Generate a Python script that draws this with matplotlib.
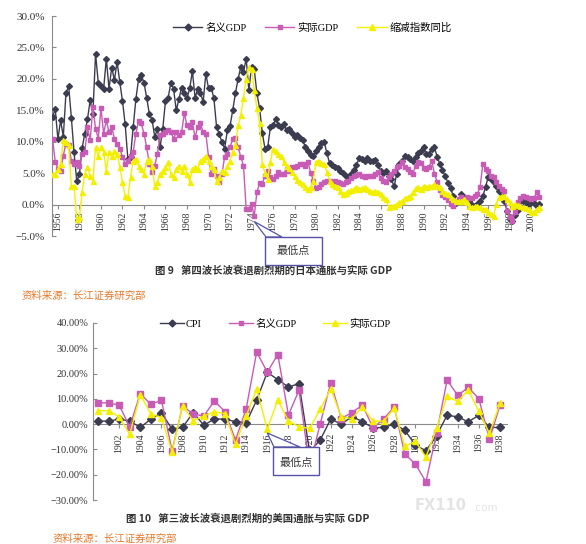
import matplotlib
matplotlib.use("Agg")
import matplotlib.pyplot as plt
from matplotlib.lines import Line2D
from matplotlib.patches import Rectangle, Polygon
import numpy as np

W, H = 586, 544
FAM = ['Liberation Serif', 'Noto Sans CJK SC', 'DejaVu Sans']
CJK = ['Noto Sans CJK SC', 'DejaVu Sans']
plt.rcParams['font.family'] = FAM
plt.rcParams['axes.unicode_minus'] = True

# ---- Japan, quarterly from 1955Q3 (fig 9) ----
jp_start = 1955.5
nominal_jp = [
    14.0, 15.2, 10.4, 13.4, 10.8, 17.8, 18.8, 13.8, 8.3, 3.8,
    4.8, 9.0, 11.3, 13.6, 16.6, 14.4, 24.0, 19.4, 18.8, 18.4,
    23.2, 18.4, 21.8, 19.8, 22.7, 19.5, 16.5, 12.8, 7.3, 7.6,
    12.4, 16.8, 20.0, 20.6, 19.4, 17.0, 14.4, 13.5, 10.8, 12.0,
    9.2, 12.1, 16.5, 17.0, 19.4, 18.4, 15.0, 16.8, 18.6, 17.8,
    16.9, 18.5, 21.2, 17.0, 18.4, 17.8, 16.3, 20.8, 18.5, 18.6,
    16.9, 12.3, 11.2, 9.9, 8.9, 11.8, 12.5, 15.0, 17.7, 20.0,
    21.9, 21.1, 23.2, 18.2, 21.9, 21.5, 17.7, 15.3, 11.4, 8.9,
    9.1, 12.3, 12.7, 13.6, 12.6, 12.3, 12.8, 11.8, 12.0, 11.4,
    10.7, 11.0, 10.6, 10.2,
    9.2, 8.5, 7.9, 7.8, 8.5, 9.2, 9.8, 10.0, 8.2, 6.6,
    6.3, 6.0, 5.8, 5.4, 5.0, 4.6, 4.4, 4.8, 5.5, 6.3,
    7.4, 7.3, 6.9, 7.4, 6.9, 7.0, 7.1, 6.3, 5.4, 5.0,
    5.3, 4.6, 4.0, 2.9, 4.9, 6.4, 7.0, 7.7, 7.6, 7.2,
    7.0, 7.6, 8.2, 8.6, 9.2, 8.0, 8.1, 8.9, 9.1, 7.6,
    6.5, 5.5, 4.5, 3.5, 2.7, 1.3, 0.2, 0.8, 1.7, 1.2,
    0.7, 0.5, 0.0, -0.2, 0.1, 0.6, 1.3, 2.8, 4.4, 4.1,
    3.6, 3.0, 2.1, 1.3, 0.5, -1.0, -2.3, -2.6, -1.6, -0.8,
    0.6, 0.5, 0.4, 0.1, 0.4, 0.3, -0.2, 0.1]
real_jp = [
    10.5, 6.8, 5.7, 5.4, 7.8, 9.7, 9.4, 7.0, 6.5, 6.8,
    6.2, 8.1, 8.4, 12.3, 10.2, 15.5, 12.1, 10.5, 15.3, 11.3,
    13.4, 11.5, 12.4, 10.5, 9.7, 8.9, 7.6, 6.5, 7.0, 7.8,
    8.4, 11.3, 13.3, 12.9, 11.3, 9.1, 6.5, 5.2, 6.2, 8.1,
    11.0, 11.3, 11.5, 11.8, 11.5, 10.5, 11.5, 11.0, 11.5, 14.5,
    12.6, 12.3, 13.1, 10.7, 12.4, 12.9, 11.5, 11.3, 7.6, 4.9,
    5.7, 4.6, 3.6, 4.9, 7.6, 8.1, 9.1, 10.5, 10.6, 9.1,
    7.6, 6.2, -0.7, -0.7, 0.1, -1.8, 2.0, 3.4, 3.3, 4.6,
    5.4, 4.4, 4.1, 4.6, 5.2, 4.9, 4.9, 5.7, 5.4, 6.0,
    6.0, 6.2,
    6.4, 6.4, 6.2, 6.8, 5.0, 3.8, 2.6, 2.8, 3.2, 3.6,
    3.8, 3.8, 3.6, 3.8, 3.6, 3.5, 3.3, 3.6, 3.8, 4.3,
    4.6, 4.7, 4.9, 4.5, 4.4, 4.6, 4.6, 4.5, 4.9, 5.2,
    4.2, 3.8, 3.6, 4.4, 4.9, 5.4, 5.9, 6.2, 6.8, 6.0,
    5.6, 5.2, 4.9, 6.2, 6.8, 6.6, 5.8, 5.7, 6.0, 7.0,
    4.9, 3.6, 2.3, 1.6, 1.2, 0.8, 0.1, -0.3, 0.4, 0.9,
    1.2, 0.9, 1.2, 1.0, 1.0, 1.4, 1.7, 2.8, 6.5, 5.7,
    5.4, 4.6, 4.4, 3.6, 3.0, 2.5, 2.2, -1.0, -2.0, -2.6,
    -1.2, 0.4, 1.0, 1.4, 1.2, 1.0, 0.9, 1.0, 2.0, 1.2]
deflator_jp = [
    4.9, 4.9, 5.7, 6.5, 10.2, 9.9, 9.4, 3.0, 3.0, -2.3,
    -2.0, 2.0, 4.9, 6.0, 4.6, 3.8, 9.1, 7.8, 9.1, 8.4,
    5.4, 8.4, 7.8, 8.6, 8.1, 6.0, 3.6, 1.4, 1.2, 4.4,
    7.0, 7.3, 6.2, 5.7, 4.9, 7.0, 7.3, 6.2, 3.0, 3.6,
    4.9, 5.4, 6.0, 6.8, 4.9, 4.4, 5.7, 6.2, 5.4, 6.2,
    4.9, 3.6, 5.7, 6.0, 5.7, 7.0, 7.3, 7.8, 7.0, 6.2,
    5.7, 3.8, 4.4, 5.4, 5.2, 6.2, 7.0, 8.4, 9.4, 12.6,
    14.2, 17.0, 20.0, 21.9, 21.6, 18.2, 15.3, 12.9, 6.5, 5.0,
    4.1, 6.8, 8.9, 8.6, 8.1, 7.8, 6.8, 6.2, 5.8, 5.2,
    4.6, 3.9, 3.6, 3.3,
    2.8, 2.5, 2.8, 3.8, 6.8, 7.0, 6.6, 6.5, 5.2, 3.8,
    3.3, 3.0, 2.8, 2.2, 1.7, 1.9, 2.2, 2.3, 2.5, 2.8,
    2.5, 2.6, 2.8, 2.5, 2.2, 2.0, 2.2, 2.0, 1.7, 1.2,
    0.9, -0.4, -0.3, -0.2, 0.1, 0.4, 0.6, 1.0, 1.2, 1.4,
    2.0, 2.6, 2.8, 2.5, 3.0, 2.8, 2.9, 2.9, 3.2, 3.0,
    2.8, 2.2, 1.9, 1.7, 1.2, 0.9, 0.6, 0.6, 0.6, 0.9,
    0.4, -0.2, -0.4, -0.3, -0.2, -0.4, -0.7, -0.7, -1.2, -1.5,
    -1.8, 0.1, 1.2, 1.4, 1.4, 0.9, 0.4, -0.2, 0.1, 0.0,
    -0.2, -0.4, -0.5, -0.7, -1.2, -1.2, -0.7, -0.4]
jp_ticks = list(range(1956, 2001, 2))
jp_yticks = [-5, 0, 5, 10, 15, 20, 25, 30]
jp_low_year = 1974   # callout marks the lowest real GDP in this year

# ---- USA, annual 1900-1938 (fig 10) ----
us_years = list(range(1900, 1939))
cpi_us = [1.2, 1.2, 2.0, 1.2, -1.3, 2.0, 4.5, -2.0, -1.3, 4.6,
          -0.4, 2.0, 2.0, 1.0, 0.5, 9.5, 20.5, 17.6, 14.7, 16.0,
          -10.9, -6.3, 2.0, 0.0, 3.0, 1.0, -1.5, -1.3, 0.0, -2.4,
          -8.3, -10.5, -4.5, 3.5, 2.9, 0.9, 3.5, -1.3, -1.3]
nominal_us = [8.4, 8.4, 7.5, -1.0, 12.1, 7.8, 9.5, -10.5, 7.2, 4.0,
              3.2, 9.2, 4.9, -6.3, 5.9, 28.5, 20.6, 27.5, 3.6, 13.4,
              -16.6, 0.0, 16.4, 2.2, 4.6, 7.5, -1.5, 2.0, 6.8, -11.8,
              -15.8, -22.8, -3.7, 17.4, 11.4, 14.5, 10.1, -6.0, 7.5]
real_us = [5.3, 5.3, 2.9, -4.0, 11.7, 4.0, 2.6, -10.9, 7.2, 1.3,
           3.2, 4.9, 4.2, -7.9, 3.2, 13.8, -2.0, 9.5, 1.3, -1.0,
           -1.7, 5.8, 14.0, 2.9, 2.2, 6.8, 1.2, 1.2, 6.2, -8.8,
           -6.8, -13.0, -1.7, 11.0, 9.0, 13.4, 5.1, -3.7, 8.2]
us_ticks = list(range(1902, 1939, 2))
us_yticks = [-30, -20, -10, 0, 10, 20, 30, 40]
us_low = (1916, -3.5)

C_DARK = '#3c3c50'
C_PINK = '#c75bb5'
C_YEL = '#f2f000'
C_AX = '#8a8a8a'
C_BOX = '#5552a8'
C_SRC = '#e8782a'


def fp(px, py):
    return px / W, 1 - py / H


def style_axes(ax, yticks, fmt, ysize, xsize, xpad, ypad):
    for s in ('top', 'right'):
        ax.spines[s].set_visible(False)
    ax.spines['left'].set_color(C_AX)
    ax.spines['bottom'].set_color(C_AX)
    ax.spines['bottom'].set_position(('data', 0))
    ax.set_yticks(yticks)
    ax.set_yticklabels([fmt(v).replace('-', '\u2212') for v in yticks])
    ax.tick_params(axis='y', direction='in', length=3, color=C_AX,
                   labelsize=ysize, pad=ypad, labelcolor='#333333')
    ax.tick_params(axis='x', direction='out', length=3, color=C_AX,
                   labelsize=xsize, pad=xpad, labelrotation=90,
                   labelcolor='#333333')
    ax.patch.set_visible(False)


fig = plt.figure(figsize=(W / 100, H / 100), dpi=100)

# ================= Fig 9 =================
ax1 = fig.add_axes([52 / W, 1 - 236 / H, (542 - 52) / W, (236 - 16) / H])
xq = jp_start + 0.25 * np.arange(len(nominal_jp))
ax1.plot(xq, nominal_jp, color=C_DARK, lw=1.0, marker='D', ms=3.0,
         mec=C_DARK, mfc=C_DARK, zorder=3)
ax1.plot(xq, real_jp, color=C_PINK, lw=1.0, marker='s', ms=3.0,
         mec=C_PINK, mfc=C_PINK, zorder=4)
ax1.plot(xq, deflator_jp, color=C_YEL, lw=1.0, marker='^', ms=3.6,
         mec=C_YEL, mfc=C_YEL, zorder=5)
ax1.set_xlim(1955.45, 2001.0)
ax1.set_ylim(-5, 30)
ax1.set_xticks(jp_ticks)
ax1.set_xticklabels([str(y) for y in jp_ticks])
style_axes(ax1, jp_yticks, lambda v: f'{v:.1f}%', 8, 7, 2, 5)

h1 = [Line2D([], [], color=C_DARK, lw=1, marker='D', ms=3.5),
      Line2D([], [], color=C_PINK, lw=1, marker='s', ms=3.5),
      Line2D([], [], color=C_YEL, lw=1, marker='^', ms=4)]
fig.legend(h1, ['名义GDP', '实际GDP', '缩减指数同比'], ncol=3, frameon=False,
           loc='center left', bbox_to_anchor=fp(173, 28),
           bbox_transform=fig.transFigure, borderpad=0, borderaxespad=0,
           handlelength=2.8, handletextpad=0.3, columnspacing=1.8,
           prop={'family': FAM, 'size': 7.5})

# callout "最低点" at the 1974 trough of real GDP
real_arr = np.array(real_jp)
win = np.where((xq >= jp_low_year - 0.5) & (xq < jp_low_year + 1))[0]
imin = win[np.argmin(real_arr[win])]
tip1 = fig.transFigure.inverted().transform(
    ax1.transData.transform((xq[imin], real_arr[imin] - 0.9)))
fig.patches.append(Polygon([tip1, fp(266, 237), fp(282, 237)], closed=True,
                           transform=fig.transFigure, fc='white',
                           ec=C_BOX, lw=0.9, zorder=6))
x0, y0 = fp(265, 265)
fig.patches.append(Rectangle((x0, y0), 57 / W, 28 / H, transform=fig.transFigure,
                             fc='white', ec=C_BOX, lw=1.0, zorder=7))
fig.text(*fp(293, 251), '最低点', family=CJK, fontsize=8, color='#333333',
         ha='center', va='center', zorder=8)

fig.text(*fp(274, 271), '图 9   第四波长波衰退剧烈期的日本通胀与实际 GDP',
         family=CJK, fontsize=7.5, weight='bold', color='#333333',
         ha='center', va='center')
fig.text(*fp(22, 296), '资料来源：长江证券研究部', family=CJK, fontsize=7.5,
         color=C_SRC, ha='left', va='center')

# ================= Fig 10 =================
ax2 = fig.add_axes([93 / W, 1 - 500 / H, (507 - 93) / W, (500 - 323) / H])
ax2.plot(us_years, cpi_us, color=C_DARK, lw=1.0, marker='D', ms=3.6,
         mec=C_DARK, mfc=C_DARK, zorder=3)
ax2.plot(us_years, nominal_us, color=C_PINK, lw=1.0, marker='s', ms=3.8,
         mec=C_PINK, mfc=C_PINK, zorder=4)
ax2.plot(us_years, real_us, color=C_YEL, lw=1.0, marker='^', ms=4.4,
         mec=C_YEL, mfc=C_YEL, zorder=5)
ax2.set_xlim(1899.53, 1938.66)
ax2.set_ylim(-30, 40)
ax2.set_xticks(us_ticks)
ax2.set_xticklabels([str(y) for y in us_ticks])
style_axes(ax2, us_yticks, lambda v: f'{v:.2f}%', 7.5, 7, 3.5, 3.5)

h2 = [Line2D([], [], color=C_DARK, lw=1, marker='D', ms=3.5),
      Line2D([], [], color=C_PINK, lw=1, marker='s', ms=3.5),
      Line2D([], [], color=C_YEL, lw=1, marker='^', ms=4)]
fig.legend(h2, ['CPI', '名义GDP', '实际GDP'], ncol=3, frameon=False,
           loc='center left', bbox_to_anchor=fp(160, 324),
           bbox_transform=fig.transFigure, borderpad=0, borderaxespad=0,
           handlelength=2.3, handletextpad=0.2, columnspacing=2.6,
           prop={'family': FAM, 'size': 7.5})

tip2 = fig.transFigure.inverted().transform(ax2.transData.transform(us_low))
fig.patches.append(Polygon([tip2, fp(274, 447), fp(300, 447)], closed=True,
                           transform=fig.transFigure, fc='white',
                           ec=C_BOX, lw=0.9, zorder=6))
x0, y0 = fp(273, 475)
fig.patches.append(Rectangle((x0, y0), 46 / W, 28 / H, transform=fig.transFigure,
                             fc='white', ec=C_BOX, lw=1.0, zorder=7))
fig.text(*fp(296, 463), '最低点', family=CJK, fontsize=8, color='#333333',
         ha='center', va='center', zorder=8)

fig.text(*fp(248, 519), '图 10   第三波长波衰退剧烈期的美国通胀与实际 GDP',
         family=CJK, fontsize=7.5, weight='bold', color='#333333',
         ha='center', va='center')
fig.text(*fp(53, 539), '资料来源：长江证券研究部', family=CJK, fontsize=7.5,
         color=C_SRC, ha='left', va='center')

# watermark
fig.text(*fp(415, 505), 'FX110', family=['DejaVu Sans'], fontsize=10.5,
         weight='bold', color='#e4e4e4', ha='left', va='center')
fig.text(*fp(473, 508), '.com', family=['DejaVu Sans'], fontsize=7.5,
         color='#e4e4e4', ha='left', va='center')

fig.savefig('out.png', dpi=100)
